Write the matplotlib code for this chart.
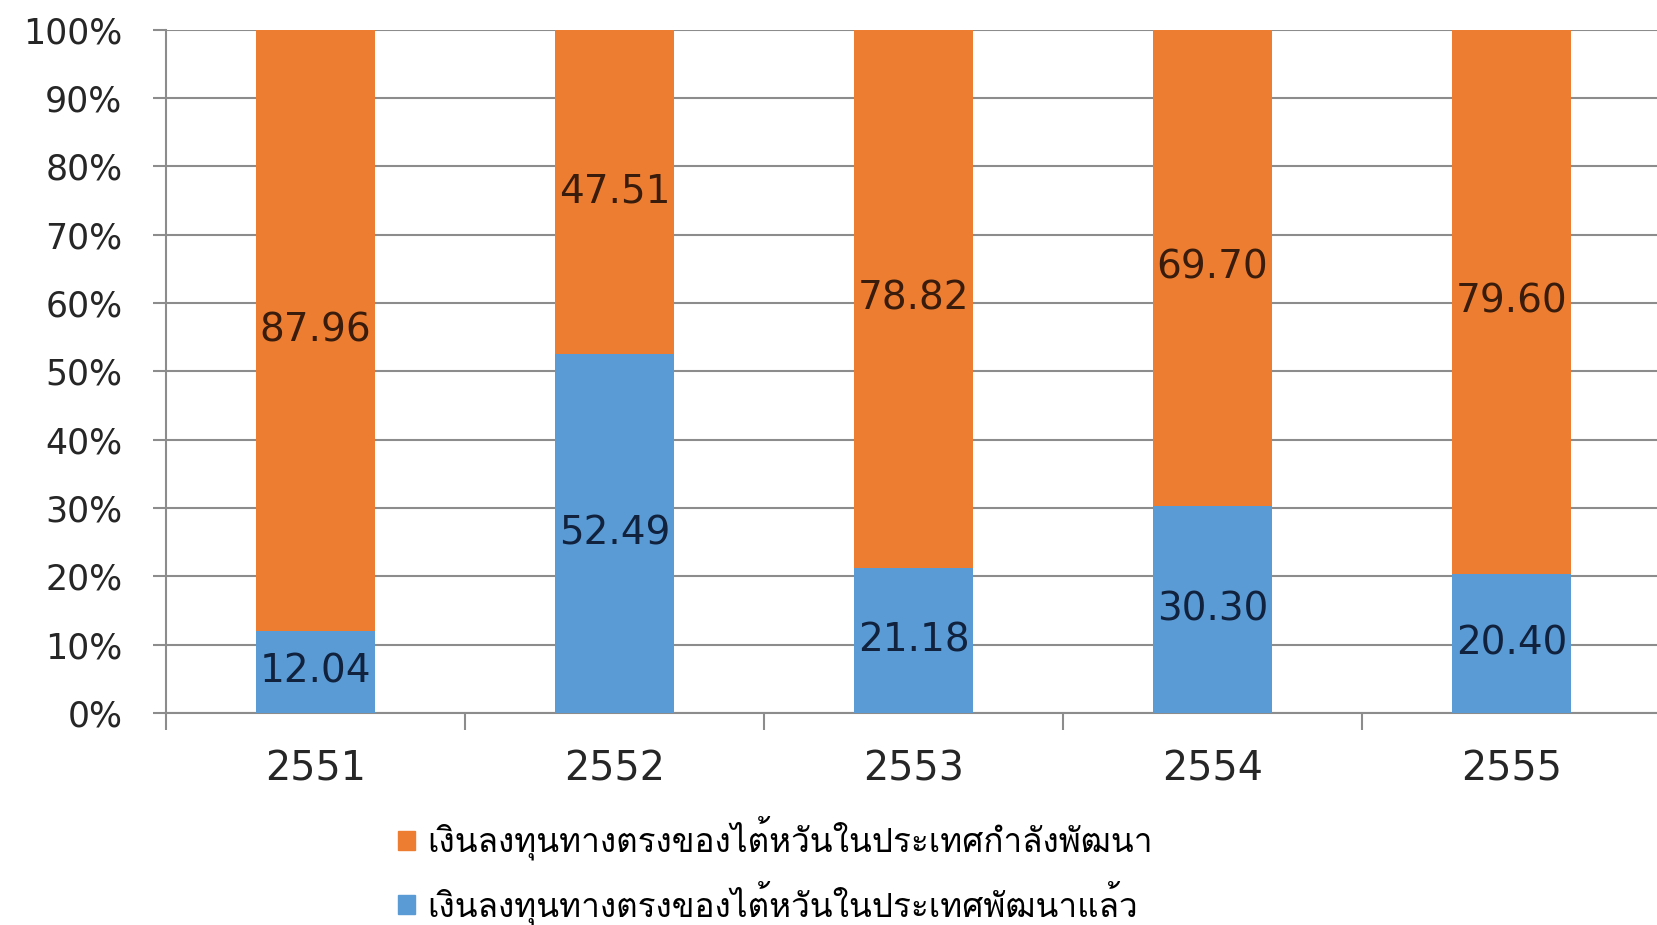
import matplotlib
matplotlib.use("Agg")
import matplotlib.pyplot as plt
from matplotlib import font_manager, ft2font
from matplotlib.patches import Patch
import numpy as np

# data (percent share of Taiwan FDI)
years = ['2551', '2552', '2553', '2554', '2555']
developed = [12.04, 52.49, 21.18, 30.30, 20.40]
developing = [87.96, 47.51, 78.82, 69.70, 79.60]
label_developing = 'เงินลงทุนทางตรงของไต้หวันในประเทศกำลังพัฒนา'
label_developed = 'เงินลงทุนทางตรงของไต้หวันในประเทศพัฒนาแล้ว'

orange = '#ED7D31'
blue = '#5B9BD5'
grid_col = '#8c8c8c'


def thai_fonts():
    names = []
    for f in font_manager.fontManager.ttflist:
        try:
            cmap = ft2font.FT2Font(f.fname).get_charmap()
        except Exception:
            continue
        if 0x0E07 in cmap and f.name not in names:
            names.append(f.name)
    return names


found = thai_fonts()
pick = [n for n in ['Loma', 'Tlwg Typo', 'Garuda'] if n in found] or found[:1]
thai_family = pick[:1] + ['DejaVu Sans']

fig = plt.figure(figsize=(16.57, 9.25), dpi=100)
ax = fig.add_axes([0.1002, 0.2292, 0.9022, 0.7388])

x = np.arange(len(years))
b1 = ax.bar(x, developed, width=0.395, color=blue, zorder=3)
b2 = ax.bar(x, developing, width=0.395, bottom=developed, color=orange, zorder=3)
ax.bar_label(b1, labels=[f'{v:.2f}' for v in developed], label_type='center',
             fontsize=28, color='#10223d', zorder=4)
ax.bar_label(b2, labels=[f'{v:.2f}' for v in developing], label_type='center',
             fontsize=28, color='#3a1c0c', zorder=4)

ax.set_xlim(-0.5, 4.5)
ax.set_ylim(0, 100)

ax.set_yticks(np.arange(0, 101, 10))
ax.set_yticklabels([f'{v}%' for v in range(0, 101, 10)])
ax.tick_params(axis='y', direction='out', length=9.5, width=1.5, color=grid_col,
               pad=22, labelsize=25, labelcolor='#262626')
ax.yaxis.grid(True, color=grid_col, lw=1.5)
ax.set_axisbelow(True)

ax.set_xticks(np.arange(-0.5, 5, 1))
ax.set_xticklabels([])
ax.set_xticks(x, minor=True)
ax.set_xticklabels(years, minor=True)
ax.tick_params(axis='x', which='major', direction='out', length=12, width=1.5,
               color=grid_col)
ax.tick_params(axis='x', which='minor', length=0, pad=26, labelsize=28.5,
               labelcolor='#262626')

for s in ['top', 'right']:
    ax.spines[s].set_visible(False)
for s in ['left', 'bottom']:
    ax.spines[s].set_color(grid_col)
    ax.spines[s].set_linewidth(1.5)

handles = [Patch(color=orange), Patch(color=blue)]
fig.legend(handles, [label_developing, label_developed], loc='upper left',
           bbox_to_anchor=(0.2402, 0.118), frameon=False, borderpad=0,
           borderaxespad=0, handlelength=0.5, handleheight=0.5,
           handletextpad=0.38, labelspacing=0.6,
           prop={'family': thai_family, 'size': 24})

fig.savefig('out.png', dpi=100)
